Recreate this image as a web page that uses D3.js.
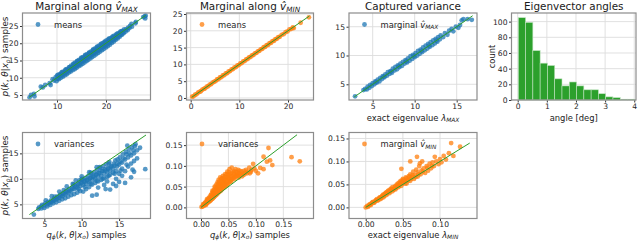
<!DOCTYPE html>
<html>
<head>
<meta charset="utf-8">
<script src="https://cdn.jsdelivr.net/npm/d3@7"></script>
<style>
  body { margin: 0; background: #fff; }
  svg { display: block; font-family: 'DejaVu Sans', sans-serif; }
</style>
</head>
<body>
<svg width="640" height="241"></svg>
<script>
// ---- data ----
const meansMaxPts = [
  [4.4,4.3],[4.7,5.0],[5.3,5.3],[5.4,4.6],[6.7,7.4],[7.1,7.2],[7.6,7.9],[8.5,8.4],[8.7,7.9],[9.1,9.6],[9.4,9.2],
  [9.7,10.1],[9.9,9.0],[10.1,9.7],[10.0,10.6],[10.4,9.6],[10.3,10.4],[10.5,11.0],[10.8,10.0],[10.7,10.9],[10.9,11.4],
  [11.2,10.3],[11.1,11.0],[11.3,11.8],[11.6,10.7],[11.5,11.5],[11.7,12.2],[12.0,11.0],[11.9,11.8],[12.1,12.6],
  [12.4,11.5],[12.3,12.3],[12.5,13.1],[12.8,11.8],[12.7,12.6],[12.9,13.5],[13.2,12.2],[13.1,13.1],[13.3,13.9],
  [13.6,12.5],[13.5,13.5],[13.7,14.4],[14.0,12.9],[13.9,13.8],[14.1,14.8],[14.0,14.2],[14.4,13.3],[14.3,14.2],[14.5,15.2],
  [14.8,13.6],[14.7,14.6],[14.9,15.6],[14.8,15.0],[15.2,14.0],[15.1,15.0],[15.3,16.0],[15.2,15.5],[15.6,14.4],[15.5,15.4],[15.7,16.4],
  [16.0,14.8],[15.9,15.8],[16.1,16.8],[16.0,16.2],[16.4,15.2],[16.3,16.2],[16.5,17.2],[16.8,15.6],[16.7,16.6],[16.9,17.6],[16.8,17.0],
  [17.2,16.0],[17.1,17.0],[17.3,18.0],[17.6,16.4],[17.5,17.4],[17.7,18.4],[17.6,17.8],[18.0,16.8],[17.9,17.8],[18.1,18.8],
  [18.4,17.2],[18.3,18.2],[18.5,19.2],[18.4,18.6],[18.8,17.6],[18.7,18.6],[18.9,19.6],[19.2,18.0],[19.1,19.0],[19.3,20.0],[19.2,19.4],
  [19.6,18.4],[19.5,19.4],[19.7,20.4],[20.0,18.8],[19.9,19.8],[20.1,20.8],[20.0,20.2],[20.4,19.2],[20.3,20.2],[20.5,21.1],
  [20.8,19.6],[20.7,20.6],[20.9,21.5],[21.2,20.1],[21.1,21.0],[21.3,21.8],[21.6,20.5],[21.5,21.4],[21.7,22.2],
  [22.0,21.0],[21.9,21.8],[22.1,22.5],[22.4,21.4],[22.3,22.2],[22.5,22.9],[22.8,21.9],[22.7,22.6],[22.9,23.2],
  [23.2,22.4],[23.1,23.0],[23.3,23.6],[23.6,22.9],[23.5,23.5],[23.7,24.0],[24.0,23.4],[24.1,24.0],[24.4,23.8],[24.5,24.5],
  [24.8,24.4],[24.9,25.0],[25.3,24.8],[25.2,25.6],[26.0,25.8],[26.1,26.2],[27.6,27.6],[28.0,27.2],[27.9,27.8],[28.1,28.0],
  [10.2,9.8],[10.6,10.5],[11.0,10.6],[11.4,11.3],[11.8,11.4],[12.2,12.0],[12.6,12.2],[13.0,12.8],[13.4,13.0],[13.8,13.2],
  [14.2,13.7],[14.6,14.0],[15.0,14.5],[15.4,14.9],[15.8,15.3],[16.2,15.7],[16.6,16.1],[17.0,16.5],[17.4,16.9],[17.8,17.3],
  [18.2,17.7],[18.6,18.1],[19.0,18.5],[19.4,18.9],[19.8,19.3],[20.2,19.7],[20.6,20.1],[21.0,20.5],[21.4,20.9],[21.8,21.3],
  [22.2,21.7],[22.6,22.1],[23.0,22.5],[23.4,22.9],[10.2,10.8],[11.0,11.6],[11.8,12.4],[12.6,13.1],[13.4,14.1],[14.2,14.9],
  [15.0,15.8],[15.8,16.6],[16.6,17.3],[17.4,18.2],[18.2,19.0],[19.0,19.8],[19.8,20.5],[20.6,21.3],[21.4,22.0],[22.2,22.7],
  [23.0,23.4]
];

const meansMinPts = [
  [0.3,0.4],[0.6,0.5],[0.9,1.0],[1.2,1.1],[1.5,1.6],[1.8,1.8],[2.1,2.0],[2.4,2.5],[2.7,2.7],[3.0,2.9],[3.3,3.4],
  [3.6,3.5],[3.9,4.0],[4.2,4.1],[4.5,4.6],[4.8,4.8],[5.1,5.0],[5.4,5.5],[5.7,5.6],[6.0,6.1],[6.3,6.2],[6.6,6.7],
  [6.9,6.8],[7.2,7.3],[7.5,7.4],[7.8,7.9],[8.1,8.0],[8.4,8.5],[8.7,8.6],[9.0,9.1],[9.3,9.2],[9.6,9.7],[9.9,9.8],
  [10.2,10.3],[10.5,10.4],[10.8,10.9],[11.1,11.0],[11.4,11.5],[11.7,11.6],[12.0,12.1],[12.3,12.2],[12.6,12.7],
  [12.9,12.8],[13.2,13.3],[13.5,13.4],[13.8,13.9],[14.1,14.0],[14.4,14.5],[14.7,14.6],[15.0,15.1],[15.3,15.2],
  [15.6,15.7],[15.9,15.8],[16.2,16.3],[16.5,16.4],[16.8,16.9],[17.1,17.0],[17.4,17.5],[17.7,17.6],[18.0,18.1],
  [18.3,18.2],[18.7,18.8],[19.1,19.0],[19.5,19.6],[19.9,19.8],[20.3,20.4],[20.7,20.6],[21.0,21.0],[21.2,20.8],
  [22.6,22.4],[24.3,24.0]
];

const capMaxPts = [
  [2.9,2.9],[3.9,4.0],[4.1,4.2],[4.3,4.1],[4.4,4.6],[4.6,4.4],[4.7,4.9],[4.9,4.7],[5.0,5.2],[5.2,5.0],[5.3,5.5],
  [5.5,5.3],[5.6,5.8],[5.8,5.5],[5.9,6.1],[6.1,5.9],[6.2,6.4],[6.4,6.2],[6.5,6.7],[6.7,6.5],[6.8,7.1],[7.0,6.8],
  [7.1,7.3],[7.3,7.0],[7.4,7.7],[7.6,7.4],[7.7,8.0],[7.9,7.6],[8.0,8.3],[8.2,8.0],[8.3,8.6],[8.5,8.2],[8.6,8.9],
  [8.8,8.6],[8.9,9.2],[9.1,8.8],[9.2,9.5],[9.4,9.1],[9.5,9.9],[9.7,9.4],[9.8,10.1],[10.0,9.7],[10.1,10.4],[10.3,10.0],
  [10.4,10.8],[10.6,10.3],[10.7,11.0],[10.9,10.6],[11.0,11.4],[11.2,10.9],[11.3,11.7],[11.5,11.2],[11.6,12.0],
  [11.8,11.5],[11.9,12.3],[12.1,11.8],[12.2,12.6],[12.4,12.1],[12.5,12.9],[12.7,12.4],[12.8,13.2],[13.0,12.8],
  [13.1,13.5],[13.4,13.2],[13.6,13.9],[13.9,13.6],[14.1,14.3],[14.4,14.6],[14.6,14.2],[14.9,15.0],[15.2,14.8],
  [15.4,15.3],[15.6,16.1],[15.8,16.3],[16.3,16.3],[16.8,16.2],
  [5.4,5.4],[6.3,6.3],[7.2,7.2],[8.1,8.1],[9.0,9.0],[9.9,9.9],[10.8,10.8],[11.7,11.7],[12.6,12.6]
];

const angleEdges = [0.02,0.27,0.52,0.77,1.02,1.27,1.52,1.77,2.02,2.27,2.52,2.77,3.02,3.27,3.52,3.77,4.02];
const angleCounts = [105,99,63,47,44,27,18,23,18,13,13,8,4,3,1,1];

const varMaxPts = [
  [3.6,3.0],[4.2,4.1],[4.3,4.4],[4.6,4.2],[4.6,4.6],[4.7,4.9],[5.0,4.3],[5.0,4.8],[5.1,5.2],[5.2,5.8],[5.4,4.6],
  [5.4,5.0],[5.5,5.5],[5.8,4.9],[5.8,5.4],[5.9,5.8],[6.0,6.6],[6.2,5.2],[6.2,5.7],[6.3,6.1],[6.6,5.4],[6.6,6.0],
  [6.7,6.5],[7.0,5.7],[7.0,6.3],[7.1,6.9],[7.0,7.5],[7.4,6.0],[7.4,6.6],[7.5,7.2],[7.8,6.2],[7.8,7.0],[7.9,7.6],
  [8.0,8.5],[8.2,6.5],[8.2,7.3],[8.3,8.0],[8.6,6.8],[8.6,7.6],[8.7,8.3],[9.0,7.0],[9.0,8.0],[9.1,8.7],[8.9,8.9],
  [9.2,9.7],[9.4,7.3],[9.4,8.2],[9.5,9.0],[9.8,7.6],[9.8,8.6],[9.9,9.4],[9.7,9.7],[10.0,10.5],[10.2,7.5],[10.2,8.8],
  [10.3,9.6],[10.1,9.9],[10.6,8.0],[10.6,9.0],[10.7,9.8],[10.5,10.2],[11.0,8.4],[11.0,9.3],[11.1,10.1],[10.9,10.6],
  [11.0,11.3],[11.4,6.7],[11.4,8.9],[11.4,9.8],[11.5,10.5],[11.3,11.0],[11.8,9.2],[11.8,10.0],[11.9,10.8],[11.7,11.3],
  [12.0,12.3],[12.2,8.3],[12.2,9.5],[12.2,10.4],[12.3,11.2],[12.1,11.8],[12.6,9.8],[12.6,10.6],[12.7,11.5],[12.5,12.2],
  [13.0,8.8],[13.0,10.1],[13.0,11.0],[13.1,11.9],[12.9,12.5],[13.4,9.5],[13.4,10.4],[13.4,11.3],[13.5,12.1],[13.3,12.9],
  [13.8,7.9],[13.8,10.8],[13.8,11.6],[13.9,12.5],[13.7,13.3],[14.2,9.0],[14.2,11.2],[14.2,12.0],[14.3,13.0],
  [14.6,8.6],[14.6,10.0],[14.6,11.5],[14.7,12.4],[14.5,13.6],[15.0,9.4],[15.0,11.0],[15.0,12.8],[15.1,14.2],
  [15.4,10.6],[15.4,12.0],[15.4,13.2],[15.5,14.8],[15.8,9.2],[15.8,11.5],[15.8,13.8],[15.9,15.3],[16.2,12.4],
  [16.2,14.2],[16.3,15.8],[16.1,16.5],[16.6,10.3],[16.6,13.0],[16.6,14.6],[16.7,16.2],[17.0,11.4],[17.0,13.5],
  [17.0,15.0],[17.1,16.4],[17.4,14.0],[17.4,15.6],[17.8,16.1],[18.5,11.9],
  [5.6,5.2],[6.0,5.5],[6.4,5.9],[6.8,6.2],[7.2,6.7],[7.6,7.0],[8.0,7.4],[8.4,7.7],[8.8,8.1],[9.2,8.4],[9.6,8.9],
  [10.0,9.2],[10.4,9.4],[10.8,9.7],[11.2,10.2],[11.6,10.4],[12.0,10.9],[12.4,11.1],[12.8,11.6],[13.2,11.6],[13.6,12.0],
  [14.0,12.4],[14.4,12.6],[14.8,13.0],[15.2,13.4],[6.4,6.5],[7.6,7.8],[8.8,9.0],[10.0,10.0],[11.2,11.2],[12.4,12.3],
  [13.6,13.0],[14.8,13.8],[9.6,8.0],[10.4,8.4],[11.2,9.0],[12.0,9.6],[12.8,10.0],[13.6,10.6],[14.4,11.0],[15.2,11.6],
  [16.0,12.8],[16.4,15.0],[16.9,15.6],[17.2,16.8],[16.0,14.8],[15.6,14.0],[16.8,11.8],[12.0,6.9],[13.2,8.0]
];

const varMinPts = [
  [0.001,0.001],[0.003,0.002],[0.004,0.005],[0.006,0.004],[0.006,0.008],[0.008,0.007],[0.008,0.012],[0.010,0.009],
  [0.010,0.015],[0.012,0.011],[0.012,0.018],[0.014,0.013],[0.014,0.022],[0.016,0.015],[0.016,0.026],[0.018,0.017],
  [0.018,0.030],[0.020,0.020],[0.020,0.034],[0.022,0.022],[0.022,0.038],[0.023,0.030],[0.024,0.025],[0.024,0.043],
  [0.026,0.028],[0.026,0.036],[0.026,0.048],[0.028,0.030],[0.028,0.042],[0.028,0.055],[0.030,0.033],[0.030,0.047],
  [0.030,0.060],[0.032,0.036],[0.032,0.052],[0.032,0.066],[0.034,0.038],[0.034,0.057],[0.035,0.072],[0.036,0.040],
  [0.036,0.050],[0.036,0.063],[0.038,0.043],[0.038,0.070],[0.040,0.046],[0.040,0.058],[0.040,0.076],[0.042,0.048],
  [0.042,0.066],[0.044,0.050],[0.044,0.060],[0.044,0.080],[0.046,0.053],[0.046,0.072],[0.048,0.056],[0.048,0.086],
  [0.050,0.058],[0.050,0.068],[0.050,0.078],[0.052,0.062],[0.052,0.092],[0.054,0.065],[0.054,0.075],[0.056,0.068],
  [0.056,0.096],[0.056,0.083],[0.058,0.070],[0.060,0.072],[0.060,0.080],[0.060,0.088],[0.062,0.074],[0.064,0.077],
  [0.064,0.085],[0.066,0.080],[0.068,0.076],[0.068,0.090],[0.070,0.082],[0.072,0.078],[0.074,0.086],[0.076,0.080],
  [0.078,0.088],[0.080,0.083],[0.082,0.090],[0.085,0.086],[0.088,0.096],[0.089,0.082],[0.092,0.090],[0.095,0.105],
  [0.100,0.088],[0.104,0.082],[0.108,0.095],[0.114,0.092],[0.114,0.122],[0.120,0.110],[0.123,0.143],[0.126,0.113],
  [0.130,0.102],[0.165,0.121],[0.180,0.111],
  [0.004,0.008],[0.007,0.010],[0.009,0.006],[0.011,0.020],[0.013,0.016],[0.015,0.020],[0.017,0.022],[0.019,0.028],
  [0.021,0.026],[0.021,0.040],[0.023,0.034],[0.025,0.032],[0.025,0.050],[0.027,0.038],[0.029,0.046],[0.031,0.040],
  [0.031,0.056],[0.033,0.044],[0.033,0.062],[0.035,0.050],[0.037,0.056],[0.037,0.068],[0.039,0.052],[0.041,0.062],
  [0.041,0.070],[0.043,0.056],[0.043,0.074],[0.045,0.066],[0.047,0.062],[0.047,0.080],[0.049,0.072],[0.051,0.070],
  [0.051,0.085],[0.053,0.080],[0.055,0.062],[0.057,0.075],[0.059,0.085],[0.061,0.068],[0.063,0.092],[0.065,0.075],
  [0.067,0.084],[0.069,0.072],[0.071,0.088],[0.075,0.075],[0.079,0.079],[0.084,0.082],[0.091,0.086],[0.097,0.094]
];

const capMinPts = [
  [0.000,0.000],[0.002,0.003],[0.004,0.004],[0.006,0.007],[0.008,0.009],[0.010,0.012],[0.012,0.011],[0.014,0.016],
  [0.016,0.015],[0.018,0.020],[0.020,0.022],[0.020,0.018],[0.022,0.025],[0.024,0.022],[0.024,0.028],[0.026,0.030],
  [0.028,0.027],[0.028,0.033],[0.030,0.036],[0.032,0.031],[0.032,0.038],[0.034,0.041],[0.036,0.035],[0.036,0.044],
  [0.038,0.040],[0.040,0.047],[0.040,0.039],[0.042,0.050],[0.044,0.044],[0.044,0.053],[0.046,0.056],[0.048,0.047],
  [0.048,0.058],[0.048,0.084],[0.050,0.052],[0.050,0.062],[0.052,0.057],[0.054,0.065],[0.055,0.052],[0.056,0.060],
  [0.058,0.068],[0.060,0.058],[0.060,0.072],[0.060,0.100],[0.062,0.065],[0.064,0.078],[0.065,0.062],[0.066,0.070],
  [0.068,0.082],[0.069,0.110],[0.070,0.067],[0.070,0.076],[0.072,0.090],[0.073,0.096],[0.074,0.072],[0.075,0.080],
  [0.076,0.100],[0.078,0.085],[0.080,0.075],[0.082,0.090],[0.084,0.080],[0.086,0.095],[0.088,0.085],[0.090,0.098],
  [0.092,0.090],[0.093,0.110],[0.095,0.100],[0.098,0.094],[0.100,0.105],[0.102,0.098],[0.105,0.112],[0.108,0.104],
  [0.112,0.118],[0.115,0.140],[0.118,0.112],[0.127,0.132],
  [0.003,0.001],[0.005,0.006],[0.007,0.005],[0.009,0.011],[0.011,0.010],[0.013,0.014],[0.015,0.018],[0.017,0.016],
  [0.019,0.022],[0.021,0.020],[0.023,0.026],[0.025,0.025],[0.027,0.031],[0.029,0.030],[0.031,0.034],[0.033,0.035],
  [0.035,0.039],[0.037,0.038],[0.039,0.044],[0.041,0.042],[0.043,0.048],[0.045,0.047],[0.047,0.052],[0.049,0.055],
  [0.051,0.060],[0.053,0.052],[0.055,0.063],[0.057,0.058],[0.059,0.066],[0.061,0.062],[0.063,0.070],[0.067,0.066],
  [0.071,0.072],[0.077,0.078],[0.083,0.086],[0.089,0.090]
];

// identity reference lines (start, end)
const meansMaxLine = [4.3, 28.1];
const meansMinLine = [0.2, 24.4];
const capMaxLine = [2.8, 16.9];
const varMaxLine = [3.0, 18.6];
const varMinLine = [0.0, 0.175];
const capMinLine = [0.0, 0.14];

const blue = '#1f77b4', orange = '#ff7f0e', green = '#2ca02c';
const svg = d3.select('svg');

// text with italic / subscript runs
function rich(sel, parts, size) {
  const sh = size * 0.2;
  let down = false;
  parts.forEach(([t, s]) => {
    const ts = sel.append('tspan').text(t);
    if (s.includes('i')) ts.attr('font-style', 'italic');
    if (s.includes('s')) {
      ts.attr('font-size', size * 0.7);
      if (!down) { ts.attr('dy', sh); down = true; }
    } else if (down) { ts.attr('dy', -sh); down = false; }
  });
}

const pLabel = [['p','i'],['(',''],['k','i'],[', ',''],['θ','i'],['|',''],['x','i'],['o','is'],[') samples','']];
const qLabel = [['q','i'],['ϕ','is'],['(',''],['k','i'],[', ',''],['θ','i'],['|',''],['x','i'],['o','is'],[') samples','']];

function panel(cfg) {
  const g = svg.append('g');
  const x = d3.scaleLinear().domain(cfg.xDomain).range([cfg.left, cfg.right]);
  const y = d3.scaleLinear().domain(cfg.yDomain).range([cfg.bottom, cfg.top]);

  // grid
  g.selectAll('.gx').data(cfg.xTicks).join('line')
    .attr('x1', d => x(d)).attr('x2', d => x(d))
    .attr('y1', cfg.top).attr('y2', cfg.bottom)
    .attr('stroke', '#dcdcdc').attr('stroke-width', 0.9);
  g.selectAll('.gy').data(cfg.yTicks).join('line')
    .attr('y1', d => y(d)).attr('y2', d => y(d))
    .attr('x1', cfg.left).attr('x2', cfg.right)
    .attr('stroke', '#dcdcdc').attr('stroke-width', 0.9);

  const fmt = cfg.fmt || d3.format('d');
  const styleAxis = a => {
    a.select('.domain').remove();
    a.selectAll('line').attr('stroke', '#333');
    a.selectAll('text').attr('font-size', 7.6).attr('fill', '#262626').attr('font-family', 'DejaVu Sans');
  };
  g.append('g').attr('transform', `translate(0,${cfg.bottom})`)
    .call(d3.axisBottom(x).tickValues(cfg.xTicks).tickFormat(fmt).tickSize(2.5).tickPadding(1))
    .call(styleAxis);
  g.append('g').attr('transform', `translate(${cfg.left},0)`)
    .call(d3.axisLeft(y).tickValues(cfg.yTicks).tickFormat(fmt).tickSize(2.5).tickPadding(1.5))
    .call(styleAxis);

  return { g, x, y };
}

function frame(p, cfg) {
  p.g.append('rect')
    .attr('x', cfg.left).attr('y', cfg.top)
    .attr('width', cfg.right - cfg.left).attr('height', cfg.bottom - cfg.top)
    .attr('fill', 'none').attr('stroke', '#8c8c8c').attr('stroke-width', 1.2);
}

function scatterPanel(cfg) {
  const p = panel(cfg);
  p.g.append('g').selectAll('circle').data(cfg.pts).join('circle')
    .attr('cx', d => p.x(d[0])).attr('cy', d => p.y(d[1])).attr('r', 2.4)
    .attr('fill', cfg.color).attr('fill-opacity', 0.75);
  p.g.append('line')
    .attr('x1', p.x(cfg.line[0])).attr('y1', p.y(cfg.line[0]))
    .attr('x2', p.x(cfg.line[1])).attr('y2', p.y(cfg.line[1]))
    .attr('stroke', green).attr('stroke-width', 1);
  frame(p, cfg);
  // legend
  p.g.append('circle').attr('cx', cfg.left + 15.5).attr('cy', cfg.top + 11.5).attr('r', 2.4)
    .attr('fill', cfg.color).attr('fill-opacity', 0.75);
  const lt = p.g.append('text').attr('x', cfg.left + 31.5).attr('y', cfg.top + 14.5)
    .attr('font-size', 8.4).attr('fill', '#262626');
  rich(lt, cfg.legend, 8.4);
  return p;
}

const colL = [22.5, 150.5], col2 = [186.5, 313.5], col3 = [349, 477], col4 = [511.5, 636];
const rowT = [13, 100], rowB = [132.5, 218.5];

// top row
scatterPanel({ left: colL[0], right: colL[1], top: rowT[0], bottom: rowT[1],
  xDomain: [2.96, 29.08], yDomain: [3.55, 28.77], xTicks: [10, 20], yTicks: [5, 10, 15, 20, 25],
  pts: meansMaxPts, line: meansMaxLine, color: blue, legend: [['means', '']] });
scatterPanel({ left: col2[0], right: col2[1], top: rowT[0], bottom: rowT[1],
  xDomain: [-0.86, 25.24], yDomain: [-0.6, 25.3], xTicks: [0, 10, 20], yTicks: [0, 5, 10, 15, 20, 25],
  pts: meansMinPts, line: meansMinLine, color: orange, legend: [['means', '']] });
scatterPanel({ left: col3[0], right: col3[1], top: rowT[0], bottom: rowT[1],
  xDomain: [2.18, 17.42], yDomain: [2.27, 17.38], xTicks: [5, 10, 15], yTicks: [5, 10, 15],
  pts: capMaxPts, line: capMaxLine, color: blue,
  legend: [['marginal ', ''], ['v\u0302', 'i'], ['MAX', 'is']] });

// histogram
const hcfg = { left: col4[0], right: col4[1], top: rowT[0], bottom: rowT[1],
  xDomain: [-0.213, 4.06], yDomain: [0, 111], xTicks: [0, 1, 2, 3, 4], yTicks: [0, 20, 40, 60, 80, 100] };
const hp = panel(hcfg);
const bins = angleCounts.map((c, i) => ({ x0: angleEdges[i], x1: angleEdges[i + 1], c }));
hp.g.append('g').selectAll('rect').data(bins).join('rect')
  .attr('x', d => hp.x(d.x0)).attr('width', d => hp.x(d.x1) - hp.x(d.x0))
  .attr('y', d => hp.y(d.c)).attr('height', d => hp.y(0) - hp.y(d.c))
  .attr('fill', green).attr('stroke', '#bfe3bf').attr('stroke-width', 0.6);
frame(hp, hcfg);

// bottom row
scatterPanel({ left: colL[0], right: colL[1], top: rowB[0], bottom: rowB[1],
  xDomain: [2.08, 19.2], yDomain: [2.23, 19.09], xTicks: [5, 10, 15], yTicks: [5, 10, 15],
  pts: varMaxPts, line: varMaxLine, color: blue, legend: [['variances', '']] });
scatterPanel({ left: col2[0], right: col2[1], top: rowB[0], bottom: rowB[1],
  xDomain: [-0.0264, 0.205], yDomain: [-0.0268, 0.1804], xTicks: [0, 0.05, 0.1, 0.15], yTicks: [0, 0.05, 0.1, 0.15],
  fmt: d3.format('.2f'), pts: varMinPts, line: varMinLine, color: orange, legend: [['variances', '']] });
scatterPanel({ left: col3[0], right: col3[1], top: rowB[0], bottom: rowB[1],
  xDomain: [-0.0225, 0.1498], yDomain: [-0.0242, 0.163], xTicks: [0, 0.05, 0.1], yTicks: [0, 0.05, 0.1, 0.15],
  fmt: d3.format('.2f'), pts: capMinPts, line: capMinLine, color: orange,
  legend: [['marginal ', ''], ['v\u0302', 'i'], ['MIN', 'is']] });

// titles
const titles = [
  { cx: (colL[0] + colL[1]) / 2, parts: [['Marginal along ', ''], ['v\u0302', 'i'], ['MAX', 'is']] },
  { cx: (col2[0] + col2[1]) / 2, parts: [['Marginal along ', ''], ['v\u0302', 'i'], ['MIN', 'is']] },
  { cx: (col3[0] + col3[1]) / 2, parts: [['Captured variance', '']] },
  { cx: (col4[0] + col4[1]) / 2, parts: [['Eigenvector angles', '']] }
];
titles.forEach(t => {
  const el = svg.append('text').attr('x', t.cx).attr('y', 9.5).attr('text-anchor', 'middle')
    .attr('font-size', 10.4).attr('fill', '#1a1a1a');
  rich(el, t.parts, 10.4);
});

// axis labels
function label(x, y, parts, rot, size = 8.4) {
  const el = svg.append('text').attr('text-anchor', 'middle').attr('font-size', size).attr('fill', '#1a1a1a')
    .attr('transform', rot ? `translate(${x},${y}) rotate(-90)` : `translate(${x},${y})`);
  rich(el, parts, size);
}
label(8.3, (rowT[0] + rowT[1]) / 2, pLabel, true, 8.8);
label(8.3, (rowB[0] + rowB[1]) / 2, pLabel, true, 8.8);
label(494.5, (rowT[0] + rowT[1]) / 2, [['count', '']], true);
label((col3[0] + col3[1]) / 2, 120.5, [['exact eigenvalue ', ''], ['λ', 'i'], ['MAX', 'is']]);
label((col4[0] + col4[1]) / 2, 120.5, [['angle [deg]', '']]);
label((colL[0] + colL[1]) / 2, 237.8, qLabel);
label((col2[0] + col2[1]) / 2, 237.8, qLabel);
label((col3[0] + col3[1]) / 2, 237.8, [['exact eigenvalue ', ''], ['λ', 'i'], ['MIN', 'is']]);
</script>
</body>
</html>
